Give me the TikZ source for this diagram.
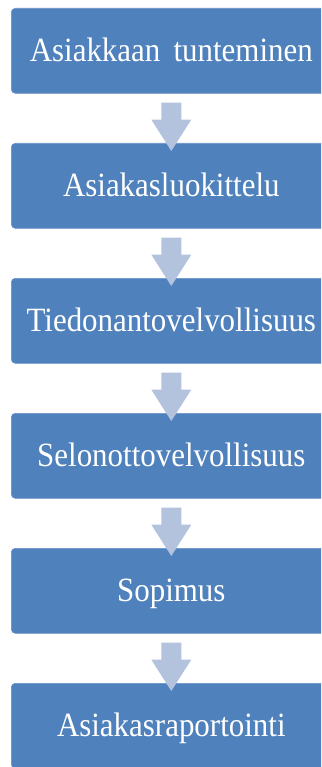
\documentclass[tikz,border=0pt]{standalone}
\usepackage{fontspec}
\setmainfont{Liberation Serif}
\usetikzlibrary{calc}
\definecolor{boxblue}{HTML}{4F81BD}
\definecolor{boxline}{HTML}{6A93C8}
\definecolor{arrowblue}{HTML}{B3C2DD}
\newcommand{\narrowtext}[1]{\scalebox{0.91}[1]{#1}}
\tikzset{
  stepbox/.style={rectangle, rounded corners=4pt, fill=boxblue, draw=boxline, line width=0.6pt,
    minimum width=320pt, minimum height=85pt, inner sep=0pt, anchor=north west},
  steptext/.style={text=white, font=\fontsize{34}{38}\selectfont, inner sep=0pt,
    text height=21pt, text depth=0pt},
  downarrow/.style={fill=arrowblue, draw=none}
}
\newcommand{\flowarrow}[2]{%
  \fill[downarrow] ($(#1.south)+(-10,-9)$) -- ($(#1.south)+(10,-9)$) -- ($(#1.south)+(10,-26)$)
    -- ($(#1.south)+(20,-26)$) -- ($(#2.north)+(0,-8)$) -- ($(#1.south)+(-20,-26)$)
    -- ($(#1.south)+(-10,-26)$) -- cycle;}
\begin{document}
\begin{tikzpicture}[x=1pt,y=1pt]
\useasboundingbox (0,0) rectangle (321,-767);
\clip (0,0) rectangle (321,-767);
\fill[white] (0,0) rectangle (321,-767);
\node[stepbox] (b1) at (11,-8) {};
\node[steptext] (t1) at ($(b1.center)+(0,0)$) {\narrowtext{Asiakkaan\hspace{6pt} tunteminen}};
\node[stepbox] (b2) at (11,-143) {};
\node[steptext] (t2) at (b2.center) {\narrowtext{Asiakasluokittelu}};
\node[stepbox] (b3) at (11,-278) {};
\node[steptext] (t3) at (b3.center) {\narrowtext{Tiedonantovelvollisuus}};
\node[stepbox] (b4) at (11,-413) {};
\node[steptext] (t4) at (b4.center) {\narrowtext{Selonottovelvollisuus}};
\node[stepbox] (b5) at (11,-548) {};
\node[steptext] (t5) at (b5.center) {\narrowtext{Sopimus}};
\node[stepbox] (b6) at (11,-683) {};
\node[steptext] (t6) at (b6.center) {\narrowtext{Asiakasraportointi}};
\flowarrow{b1}{b2}
\flowarrow{b2}{b3}
\flowarrow{b3}{b4}
\flowarrow{b4}{b5}
\flowarrow{b5}{b6}
\end{tikzpicture}
\end{document}
